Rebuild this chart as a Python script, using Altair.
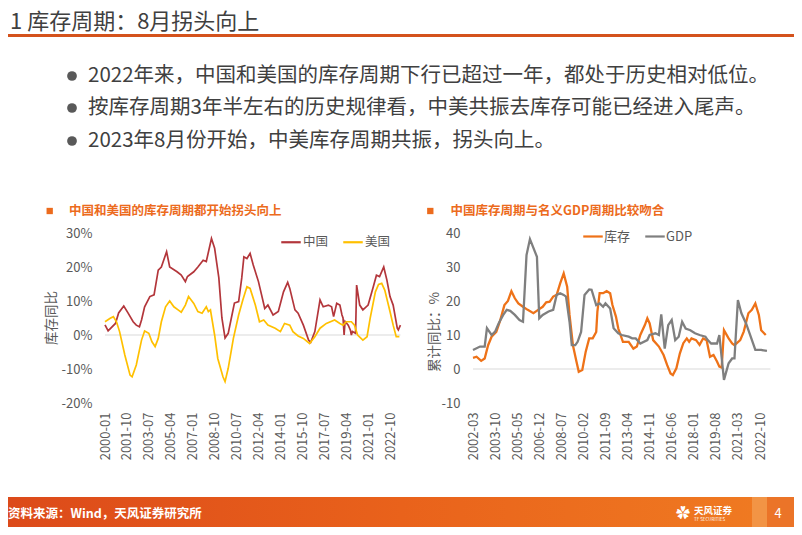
import altair as alt
import pandas as pd

FONT = "Noto Sans CJK SC"
W, H = 786, 519

TITLE = "1 库存周期：8月拐头向上"
BULLETS = [
    "2022年来，中国和美国的库存周期下行已超过一年，都处于历史相对低位。",
    "按库存周期3年半左右的历史规律看，中美共振去库存可能已经进入尾声。",
    "2023年8月份开始，中美库存周期共振，拐头向上。",
]
LEFT_TITLE = "中国和美国的库存周期都开始拐头向上"
RIGHT_TITLE = "中国库存周期与名义GDP周期比较吻合"
LEFT_YTITLE = "库存同比"
RIGHT_YTITLE = "累计同比：%"
SOURCE = "资料来源：Wind，天风证券研究所"
LOGO = "天风证券"
LOGO_SUB = "TF SECURITIES"
PAGE_NO = "4"

LEFT_SERIES = ["中国", "美国"]
RIGHT_SERIES = ["库存", "GDP"]

LEFT_TICKS = ["2000-01", "2001-10", "2003-07", "2005-04", "2007-01", "2008-10", "2010-07",
              "2012-04", "2014-01", "2015-10", "2017-07", "2019-04", "2021-01", "2022-10"]
RIGHT_TICKS = ["2002-03", "2003-10", "2005-05", "2006-12", "2008-07", "2010-02", "2011-09",
               "2013-04", "2014-11", "2016-06", "2018-01", "2019-08", "2021-03", "2022-10"]
LEFT_Y_TICKS = [-20, -10, 0, 10, 20, 30]
RIGHT_Y_TICKS = [-10, 0, 10, 20, 30, 40]

CN_DATES = ["2000-01", "2000-04", "2000-11", "2001-02", "2001-07", "2001-11", "2002-04", "2002-07",
            "2002-10", "2002-12", "2003-03", "2003-08", "2003-12", "2004-04", "2004-07", "2004-12",
            "2005-03", "2005-10", "2006-02", "2006-06", "2006-08", "2007-02", "2007-06", "2007-11",
            "2008-02", "2008-07", "2008-10", "2009-02", "2009-05", "2009-08", "2009-11", "2010-02",
            "2010-05", "2010-09", "2010-12", "2011-02", "2011-05", "2011-08", "2011-11", "2012-04",
            "2012-07", "2012-10", "2013-01", "2013-06", "2013-11", "2014-04", "2014-08", "2014-10",
            "2015-03", "2015-06", "2015-11", "2016-04", "2016-06", "2016-10", "2017-03", "2017-06",
            "2017-11", "2018-02", "2018-04", "2018-07", "2018-10", "2018-12", "2019-01", "2019-02",
            "2019-03", "2019-06", "2019-08", "2019-09", "2019-10", "2020-01", "2020-02", "2020-05",
            "2020-08", "2021-01", "2021-06", "2021-09", "2021-12", "2022-04", "2022-07", "2022-10",
            "2023-01", "2023-05", "2023-06", "2023-08"]
CN_VALUES = [3.0, 1.2, 3.4, 6.5, 8.5, 6.5, 3.9, 2.9,
             2.4, 4.4, 8.3, 11.3, 11.8, 19.1, 20.0, 24.5,
             20.0, 18.6, 17.6, 15.7, 17.2, 18.6, 20.0, 22.0,
             21.6, 28.4, 25.5, 16.8, 5.0, -0.9, 0.5, 5.0,
             9.4, 9.8, 16.8, 23.0, 22.5, 24.0, 20.6, 15.7,
             11.8, 7.8, 8.8, 5.9, 6.9, 12.7, 15.5, 13.7,
             7.4, 6.4, 2.9, -1.5, -2.2, 1.0, 10.3, 8.3,
             8.8, 8.3, 5.4, 9.3, 8.8, 5.9, 5.0, 0.0,
             4.0, 2.9, 1.5, 0.0, 1.0, 0.5, 14.7, 8.8,
             7.4, 8.8, 14.2, 17.6, 17.2, 20.0, 16.2, 11.3,
             8.8, 2.0, 1.5, 2.9]

US_DATES = ["2000-01", "2000-06", "2000-09", "2000-12", "2001-03", "2001-08", "2002-01", "2002-03",
            "2002-07", "2002-12", "2003-03", "2003-07", "2003-10", "2004-01", "2004-04", "2004-07",
            "2004-11", "2005-03", "2005-07", "2005-11", "2006-02", "2006-06", "2006-09", "2007-02",
            "2007-06", "2007-10", "2008-02", "2008-04", "2008-06", "2008-10", "2009-01", "2009-06",
            "2009-08", "2009-11", "2010-04", "2010-09", "2011-01", "2011-05", "2011-08", "2012-01",
            "2012-05", "2012-09", "2013-01", "2013-08", "2014-01", "2014-05", "2014-10", "2015-01",
            "2015-06", "2015-11", "2016-05", "2016-10", "2017-03", "2017-09", "2018-05", "2018-10",
            "2019-01", "2019-04", "2019-09", "2019-12", "2020-03", "2020-08", "2020-12", "2021-03",
            "2021-08", "2021-11", "2022-02", "2022-05", "2022-10", "2023-01", "2023-04", "2023-07"]
US_VALUES = [3.9, 4.9, 5.4, 3.9, 1.0, -5.9, -11.8, -12.3,
             -8.8, -1.5, 1.2, 0.5, -2.0, -3.4, -1.0, 3.9,
             8.3, 10.0, 8.3, 7.4, 6.7, 8.8, 11.3, 9.3,
             6.9, 6.4, 8.3, 6.9, 7.4, 0.0, -6.9, -12.3,
             -13.7, -9.8, -1.0, 5.9, 10.3, 14.2, 13.7, 8.8,
             3.9, 4.4, 2.9, 2.0, 1.0, 3.4, 2.9, 1.0,
             -0.3, -1.0, -2.5, -0.5, 2.0, 3.4, 4.4, 3.4,
             2.9, 3.9, 3.9, 2.9, 0.0, -1.5, -0.5, 4.9,
             12.7, 14.9, 15.2, 13.2, 6.9, 2.9, -0.5, -0.5]

INV_DATES = ["2002-03", "2002-06", "2002-10", "2003-01", "2003-04", "2003-07", "2003-11", "2004-02",
             "2004-06", "2004-09", "2004-12", "2005-03", "2005-06", "2005-10", "2006-02", "2006-07",
             "2006-11", "2007-03", "2007-06", "2007-09", "2007-12", "2008-03", "2008-06", "2008-09",
             "2008-12", "2009-02", "2009-05", "2009-08", "2009-10", "2010-01", "2010-04", "2010-07",
             "2010-10", "2011-01", "2011-02", "2011-04", "2011-07", "2011-10", "2012-01", "2012-03",
             "2012-06", "2012-08", "2012-12", "2013-05", "2013-09", "2013-12", "2014-03", "2014-07",
             "2014-09", "2014-11", "2015-02", "2015-07", "2015-11", "2016-02", "2016-05", "2016-07",
             "2016-10", "2017-01", "2017-04", "2017-07", "2017-09", "2017-11", "2018-03", "2018-06",
             "2018-09", "2018-12", "2019-03", "2019-06", "2019-09", "2019-11", "2020-01", "2020-03",
             "2020-07", "2020-10", "2020-12", "2021-05", "2021-08", "2021-12", "2022-03", "2022-06",
             "2022-09", "2022-11", "2023-03"]
INV_VALUES = [3.3, 3.6, 2.4, 3.1, 7.0, 9.5, 10.9, 13.9,
              18.8, 20.0, 22.9, 20.8, 19.3, 18.3, 17.4, 16.4,
              17.4, 18.3, 19.6, 19.8, 21.3, 21.8, 25.2, 28.1,
              24.2, 15.9, 7.0, 2.2, -0.8, -0.3, 5.1, 9.0,
              9.0, 10.9, 16.9, 22.3, 22.3, 22.9, 22.3, 18.8,
              15.4, 11.9, 8.0, 8.0, 6.0, 6.6, 10.0, 13.0,
              14.9, 13.4, 8.5, 6.6, 4.1, 1.2, -1.3, -1.8,
              0.2, 4.6, 7.6, 9.0, 8.0, 9.0, 8.5, 7.1,
              9.0, 8.5, 3.6, 4.1, 2.2, 0.7, 0.4, 11.4,
              9.0, 7.5, 7.0, 8.5, 11.0, 16.4, 17.4, 19.3,
              15.9, 11.4, 10.0]

GDP_DATES = ["2002-03", "2002-09", "2003-01", "2003-03", "2003-07", "2003-10", "2004-01", "2004-05",
             "2004-08", "2004-11", "2005-03", "2005-07", "2005-10", "2006-01", "2006-04", "2006-10",
             "2006-12", "2007-03", "2007-08", "2007-12", "2008-03", "2008-06", "2008-09", "2008-11",
             "2009-02", "2009-04", "2009-07", "2009-09", "2009-12", "2010-03", "2010-07", "2010-09",
             "2011-01", "2011-04", "2011-07", "2011-09", "2012-01", "2012-04", "2012-08", "2012-11",
             "2013-05", "2013-08", "2013-11", "2014-03", "2014-09", "2014-11", "2015-04", "2015-07",
             "2015-09", "2015-12", "2016-03", "2016-06", "2016-09", "2016-12", "2017-03", "2017-06",
             "2017-10", "2018-02", "2018-06", "2018-11", "2019-01", "2019-04", "2019-09", "2019-11",
             "2020-03", "2020-07", "2020-10", "2020-12", "2021-03", "2021-06", "2021-10", "2022-01",
             "2022-06", "2022-11", "2023-04"]
GDP_VALUES = [5.6, 6.6, 6.6, 12.0, 10.0, 11.0, 13.4, 15.9,
              17.4, 17.1, 15.9, 14.4, 13.9, 33.5, 38.2, 33.0,
              14.9, 15.9, 16.9, 17.4, 21.8, 22.3, 21.8, 21.3,
              13.9, 7.0, 7.0, 8.0, 10.9, 21.8, 23.4, 23.3,
              18.8, 19.3, 18.3, 19.3, 17.8, 12.0, 10.5, 10.0,
              9.5, 9.0, 9.0, 7.5, 8.5, 10.0, 10.5, 10.0,
              16.1, 6.0, 12.9, 14.4, 8.5, 9.5, 13.9, 11.9,
              11.4, 10.5, 10.0, 9.5, 8.5, 7.5, 7.5, 10.0,
              -3.2, 1.7, 3.1, 3.1, 20.3, 16.4, 13.4, 10.5,
              5.6, 5.6, 5.3]


def dt(s):
    y, m = s.split("-")
    return alt.DateTime(year=int(y), month=int(m), date=1)


left_df = pd.DataFrame({
    "date": pd.to_datetime(CN_DATES + US_DATES),
    "value": CN_VALUES + US_VALUES,
    "series": [LEFT_SERIES[0]] * len(CN_DATES) + [LEFT_SERIES[1]] * len(US_DATES),
})
right_df = pd.DataFrame({
    "date": pd.to_datetime(INV_DATES + GDP_DATES),
    "value": INV_VALUES + GDP_VALUES,
    "series": [RIGHT_SERIES[0]] * len(INV_DATES) + [RIGHT_SERIES[1]] * len(GDP_DATES),
})

# panel geometry (chart coordinates)
Y_TOP, Y_BOT = 225, 395
LX0, LX1 = 97, 382
RX0, RX1 = 465, 752

lx = alt.Scale(domain=[dt(LEFT_TICKS[0]), dt(LEFT_TICKS[-1])], range=[LX0, LX1])
ly = alt.Scale(domain=[LEFT_Y_TICKS[0], LEFT_Y_TICKS[-1]], range=[Y_BOT, Y_TOP], nice=False, zero=False)
rx = alt.Scale(domain=[dt(RIGHT_TICKS[0]), dt(RIGHT_TICKS[-1])], range=[RX0, RX1])
ry = alt.Scale(domain=[RIGHT_Y_TICKS[0], RIGHT_Y_TICKS[-1]], range=[Y_BOT, Y_TOP], nice=False, zero=False)

LABEL_COLOR = "#595959"


def x_axis(ticks):
    return alt.Axis(orient="bottom", offset=-(H - Y_BOT), values=[dt(t) for t in ticks], format="%Y-%m",
                    labelAngle=270, labelAlign="right", labelBaseline="middle", labelPadding=9,
                    labelFontSize=13, labelColor=LABEL_COLOR, labelFlush=False, labelOverlap=False,
                    domain=False, ticks=False, grid=False, title=None, labelFont=FONT)


def y_axis(ticks, x0, expr):
    return alt.Axis(orient="left", offset=-x0, values=ticks, labelExpr=expr, labelPadding=13,
                    labelFontSize=13, labelColor=LABEL_COLOR, domain=False, ticks=False, grid=False,
                    title=None, labelFont=FONT)


def legend(x, y, pad, off, size):
    return alt.Legend(orient="none", legendX=x, legendY=y, direction="horizontal", title=None,
                      symbolType="stroke", symbolSize=380, symbolStrokeWidth=2.2, labelFontSize=size,
                      labelColor=LABEL_COLOR, columnPadding=pad, labelOffset=off, padding=0, labelFont=FONT)


def zero_rule(start, end, xs, ys):
    d = pd.DataFrame({"start": [pd.Timestamp(start)], "end": [pd.Timestamp(end)], "zero": [0]})
    return alt.Chart(d).mark_rule(color="#D9D9D9", strokeWidth=1).encode(
        x=alt.X("start:T", scale=xs, axis=None), x2="end:T", y=alt.Y("zero:Q", scale=ys, axis=None))


left_lines = alt.Chart(left_df).mark_line(strokeWidth=1.7).encode(
    x=alt.X("date:T", scale=lx, axis=x_axis(LEFT_TICKS)),
    y=alt.Y("value:Q", scale=ly, axis=y_axis(LEFT_Y_TICKS, LX0, "datum.value + '%'")),
    color=alt.Color("series:N", scale=alt.Scale(domain=LEFT_SERIES, range=["#B3363B", "#FFC000"]),
                    legend=legend(272, 223, 9, 1, 12.5)),
    order=alt.Order("date:T"),
)
right_lines = alt.Chart(right_df).mark_line(strokeWidth=2.3).encode(
    x=alt.X("date:T", scale=rx, axis=x_axis(RIGHT_TICKS)),
    y=alt.Y("value:Q", scale=ry, axis=y_axis(RIGHT_Y_TICKS, RX0, "'' + datum.value")),
    color=alt.Color("series:N", scale=alt.Scale(domain=RIGHT_SERIES, range=["#EE7218", "#7F7F7F"]),
                    legend=legend(574, 217.5, 9, 0, 13)),
    order=alt.Order("date:T"),
)


def text(s, x, y, size, color, weight="normal", align="left", angle=0):
    return alt.Chart(pd.DataFrame({"t": [s]})).mark_text(
        align=align, baseline="middle", fontSize=size, color=color, fontWeight=weight,
        angle=angle, font=FONT).encode(x=alt.value(x), y=alt.value(y), text="t:N")


def rect(x, x2, y, y2, color):
    return alt.Chart(pd.DataFrame({"k": [0]})).mark_rect(color=color).encode(
        x=alt.value(x), x2=alt.value(x2), y=alt.value(y), y2=alt.value(y2))


def dot(x, y, size, color, shape="circle"):
    return alt.Chart(pd.DataFrame({"k": [0]})).mark_point(
        shape=shape, filled=True, size=size, color=color, opacity=1).encode(x=alt.value(x), y=alt.value(y))


footer_grad = alt.LinearGradient(
    gradient="linear", x1=0, x2=1, y1=0, y2=0,
    stops=[alt.GradientStop(color="#DC4A1A", offset=0), alt.GradientStop(color="#E9621B", offset=0.5),
           alt.GradientStop(color="#F07C22", offset=1)])
footer = alt.Chart(pd.DataFrame({"k": [0]})).mark_rect(color=footer_grad).encode(
    x=alt.value(0), x2=alt.value(W), y=alt.value(489), y2=alt.value(H))

layers = [
    text(TITLE, 2, 14, 22, "#404040"),
    rect(0, W, 26, 29, "#D4521C"),
]
for i, (s, yy) in enumerate(zip(BULLETS, [68, 100, 133])):
    layers.append(dot(64, yy, 95, "#595959"))
    layers.append(text(s, 80, yy, 20.5, "#404040"))
layers += [
    dot(41.7, 203, 40, "#EC6B1D", "square"),
    text(LEFT_TITLE, 61, 203, 12.5, "#EC6B1D", "bold"),
    dot(422.3, 203, 40, "#EC6B1D", "square"),
    text(RIGHT_TITLE, 442.5, 203, 12.5, "#EC6B1D", "bold"),
    text(LEFT_YTITLE, 43.5, 310, 13.5, LABEL_COLOR, align="center", angle=270),
    text(RIGHT_YTITLE, 427, 324, 13.5, LABEL_COLOR, align="center", angle=270),
    zero_rule("2000-01", "2023-08", lx, ly),
    left_lines,
    zero_rule("2002-03", "2023-07", rx, ry),
    right_lines,
    footer,
    rect(744, 759, 489, H, "#F29445"),
    rect(759, W, 489, H, "#EB7428"),
    text(SOURCE, 0, 506, 12.5, "white", "bold"),
    text("✿", 675, 506, 14, "white", align="center"),
    text(LOGO, 686, 503, 9.5, "white", "bold"),
    text(LOGO_SUB, 686, 512, 4.5, "white"),
    text(PAGE_NO, 770, 506, 13, "white", align="center"),
]

chart = alt.layer(*layers).resolve_scale(
    x="independent", y="independent", color="independent"
).resolve_axis(x="independent", y="independent").resolve_legend(color="independent").properties(
    width=W, height=H, autosize=alt.AutoSizeParams(type="none"), padding=0, background="white"
).configure(font=FONT).configure_view(stroke=None)

chart.save("out.html", embed_options={"renderer": "svg", "actions": False})
